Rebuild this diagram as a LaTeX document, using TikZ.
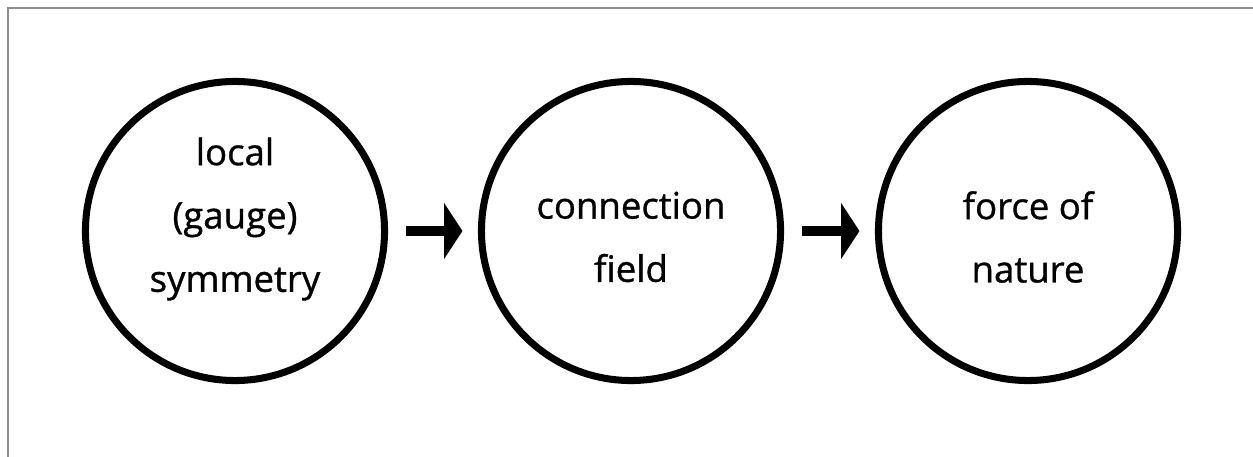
\documentclass[tikz,border=0pt]{standalone}
\usepackage{fontspec}
\setmainfont[FakeBold=0.9]{Open Sans}
\usepackage{tikz}
\usetikzlibrary{positioning, arrows.meta, calc}
\definecolor{framegray}{rgb}{0.55, 0.55, 0.55}

\begin{document}
\begin{tikzpicture}[x=0.025cm, y=-0.025cm,
	every node/.style={font=\fontsize{26}{45}\selectfont, align=center},
	ring/.style={draw, circle, line width=5pt, minimum size=7.475cm, inner sep=0pt},
	flow/.style={line width=7pt, -{Triangle[length=13pt, width=39pt]}, shorten <=13pt, shorten >=11pt}]
		\useasboundingbox (0,0) rectangle (1253,457);
		\draw[framegray, line width=1.4pt] (8,457) -- (8,8) -- (1253,8);
		
		\pgfmathsetmacro{\midy}{231}
		\node[ring] (sym) at (235,\midy) {};
		\node[ring] (conn) at (631,\midy) {};
		\node[ring] (force) at (1028,\midy) {};
		
		\node (symtxt) at (235,219) {local\\(gauge)\\symmetry};
		\node (conntxt) at (631,237) {connection\\field};
		\node (forcetxt) at (1028,237) {force of\\nature};
		
		\draw[flow] (sym) -- (conn);
		\draw[flow] (conn) -- (force);
\end{tikzpicture}
\end{document}
